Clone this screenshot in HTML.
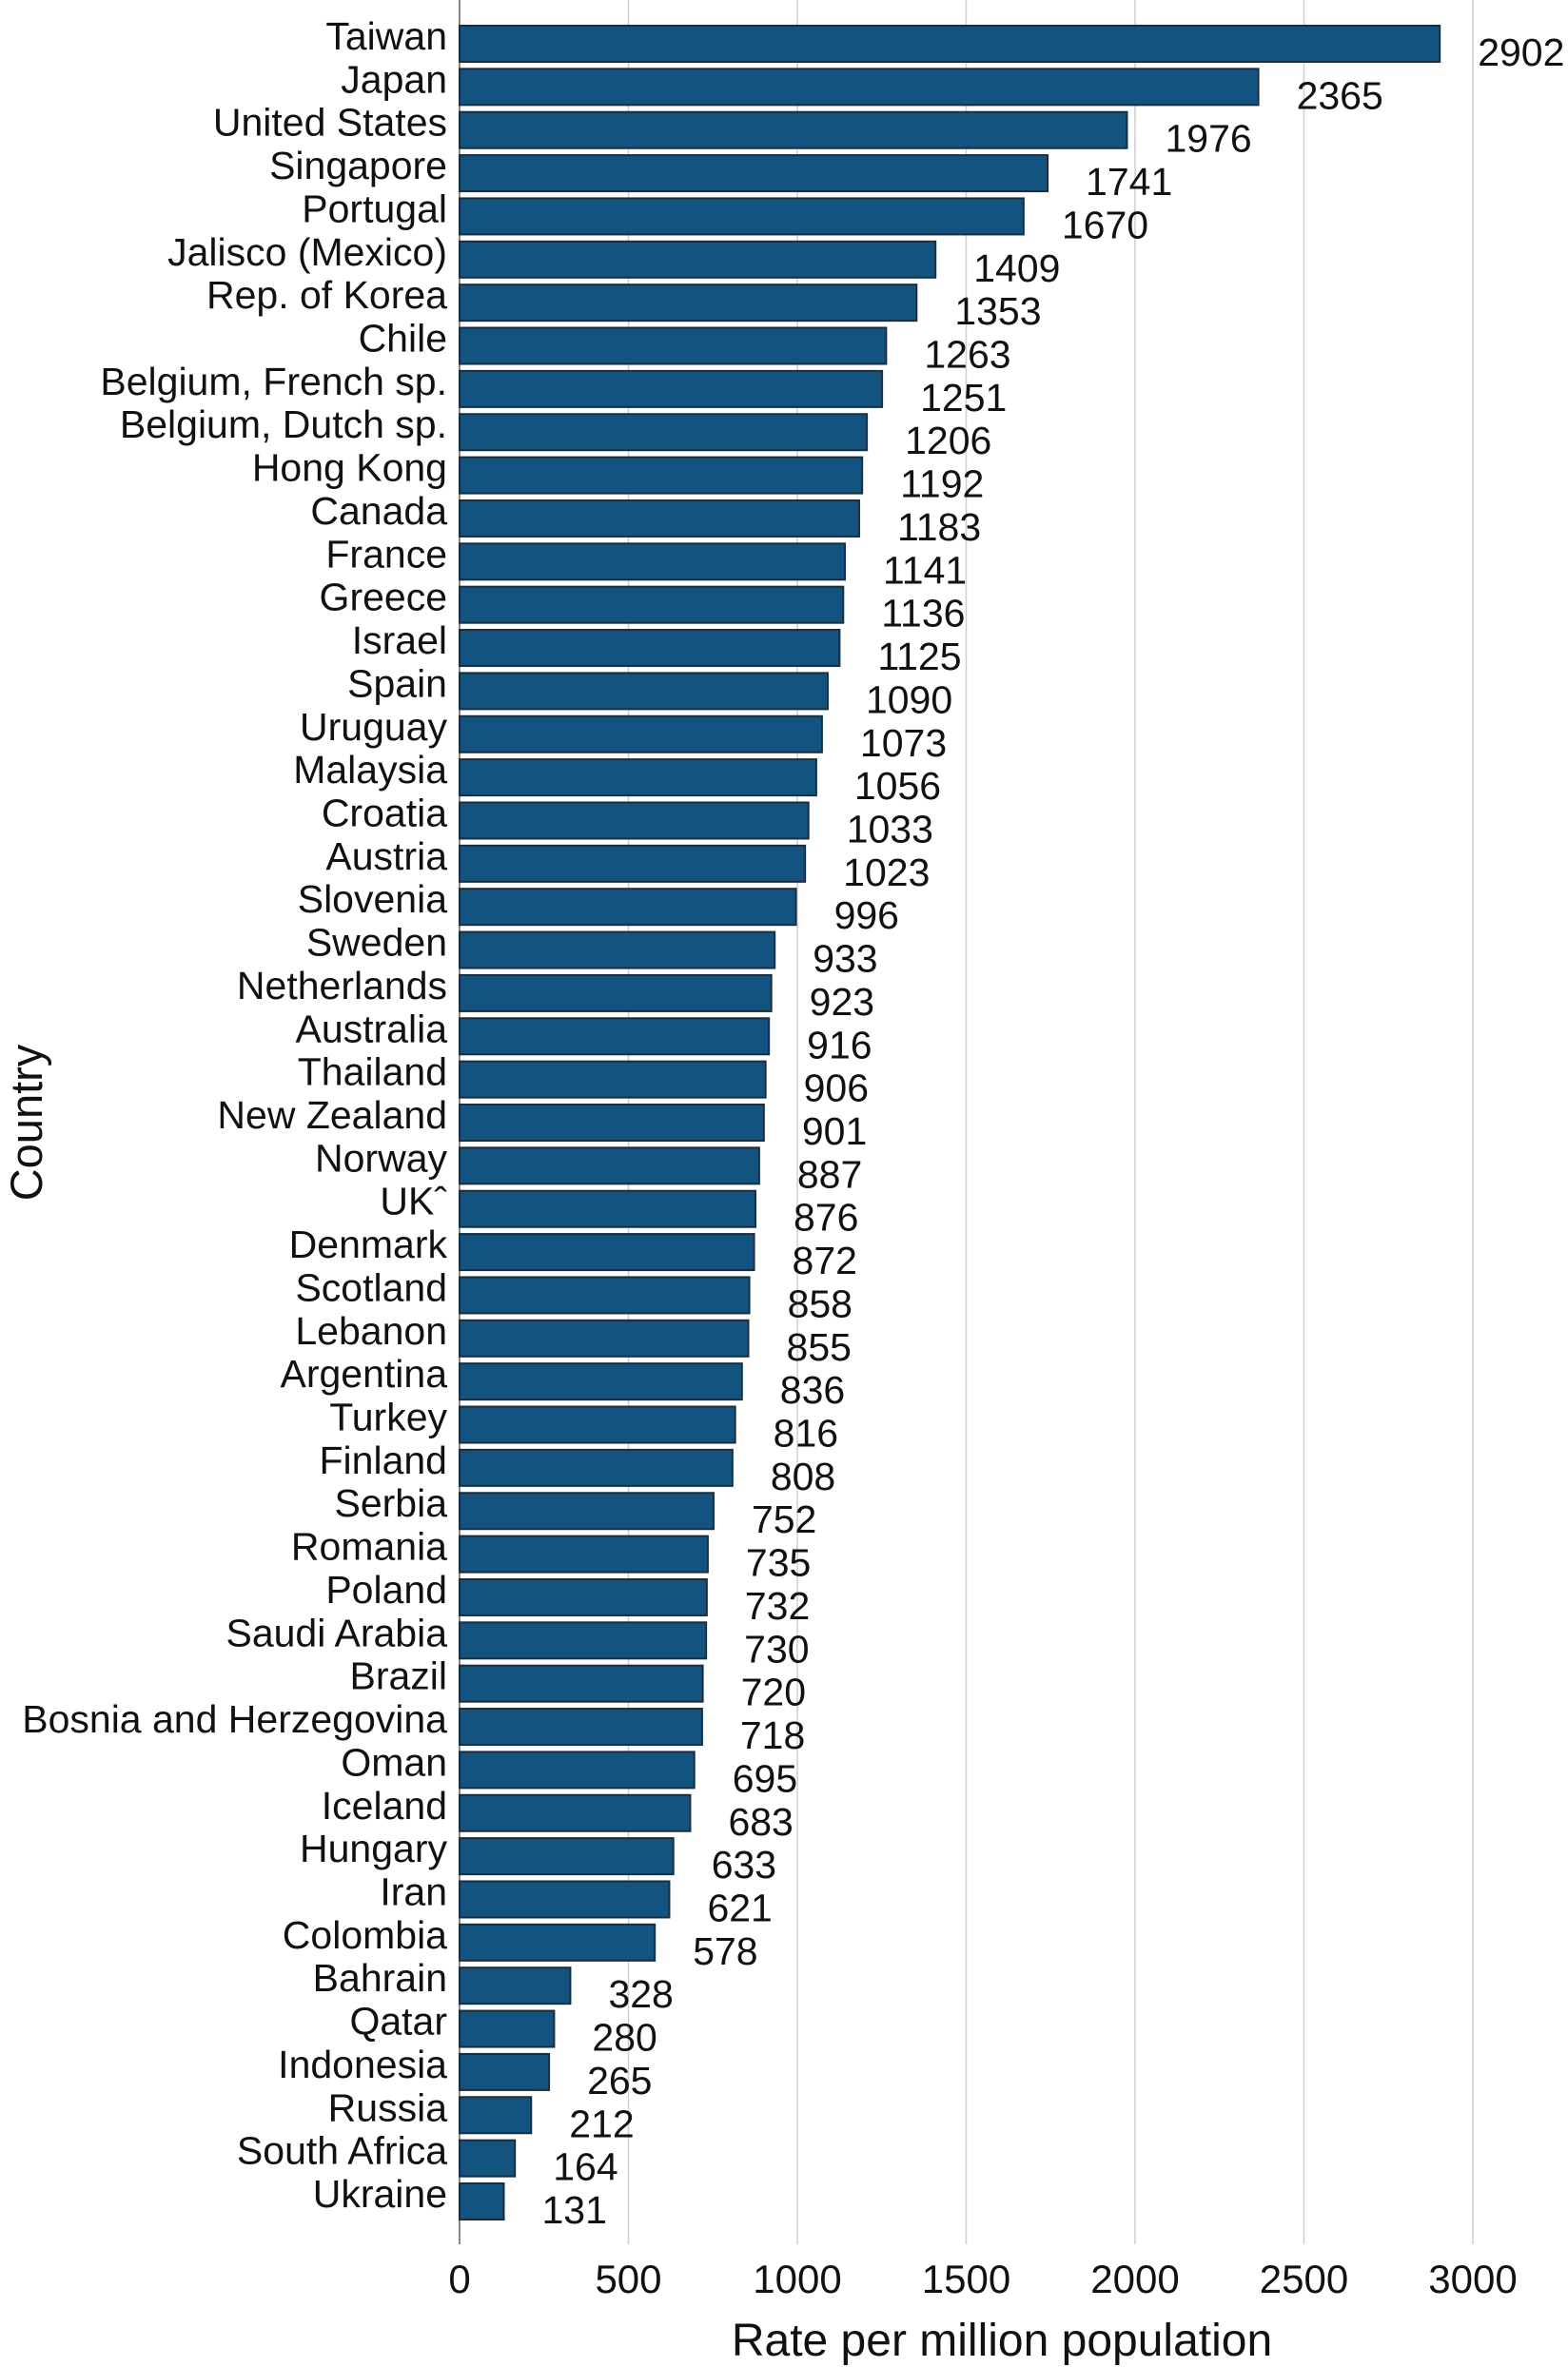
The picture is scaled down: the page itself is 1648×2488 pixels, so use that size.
<!DOCTYPE html>
<html><head><meta charset="utf-8">
<style>
html,body{margin:0;padding:0;background:#fff;}
svg{display:block;font-family:"Liberation Sans",Arial,sans-serif;}
</style></head>
<body>
<svg id="chart" width="1648" height="2488" viewBox="0 0 1648 2488" xmlns="http://www.w3.org/2000/svg">
<text x="0" y="0" transform="translate(44,1180) rotate(-90)" text-anchor="middle" font-size="47" fill="#111">Country</text>
<text x="1053" y="2476" text-anchor="middle" font-size="48" fill="#111">Rate per million population</text>
<g id="grid"></g><g id="bars"></g><g id="labels"></g><g id="ticks"></g>
</svg>
<script>
const countries=["Taiwan","Japan","United States","Singapore","Portugal","Jalisco (Mexico)","Rep. of Korea","Chile","Belgium, French sp.","Belgium, Dutch sp.","Hong Kong","Canada","France","Greece","Israel","Spain","Uruguay","Malaysia","Croatia","Austria","Slovenia","Sweden","Netherlands","Australia","Thailand","New Zealand","Norway","UKˆ","Denmark","Scotland","Lebanon","Argentina","Turkey","Finland","Serbia","Romania","Poland","Saudi Arabia","Brazil","Bosnia and Herzegovina","Oman","Iceland","Hungary","Iran","Colombia","Bahrain","Qatar","Indonesia","Russia","South Africa","Ukraine"];
const values=[2902,2365,1976,1741,1670,1409,1353,1263,1251,1206,1192,1183,1141,1136,1125,1090,1073,1056,1033,1023,996,933,923,916,906,901,887,876,872,858,855,836,816,808,752,735,732,730,720,718,695,683,633,621,578,328,280,265,212,164,131];
const ticks=[0,500,1000,1500,2000,2500,3000];
const NS="http://www.w3.org/2000/svg";
const x0=483,x1=1548,xMax=3000;
function xs(v){return x0+(x1-x0)*v/xMax;}
const top0=27,pitch=(2295-27)/50,bh=38;
function ys(i){return top0+i*pitch;}
function mk(tag,attrs,parent){const e=document.createElementNS(NS,tag);for(const k in attrs)e.setAttribute(k,attrs[k]);parent.appendChild(e);return e;}
const grid=document.getElementById('grid'),bars=document.getElementById('bars'),labels=document.getElementById('labels'),tk=document.getElementById('ticks');
ticks.forEach(t=>{
  const l=mk('line',{x1:xs(t),x2:xs(t),y1:0,y2:2359,stroke:t===0?'#888':'#cfcfcf','stroke-width':t===0?2:1.5},grid);
  
  
  const tx=mk('text',{x:xs(t),y:2410,'text-anchor':'middle','font-size':42,fill:'#111'},tk);
  tx.textContent=t;
  
  
});
countries.forEach((c,i)=>{
  const y=ys(i),v=values[i];
  const slug=c.toLowerCase().replace(/[^a-z0-9]+/g,'-').replace(/-$/,'');
  const r=mk('rect',{x:x0,y:y,width:xs(v)-x0,height:bh,fill:'#12547f',stroke:'#1a2e40','stroke-width':2},bars);
  
  
  const t=mk('text',{x:470,y:y+bh/2+6,'text-anchor':'end','font-size':41,fill:'#111'},labels);
  t.textContent=c;
  
  
  const vl=mk('text',{x:xs(v)+40,y:y+bh+4,'font-size':41,fill:'#111'},labels);
  vl.textContent=v;
  
  
});
</script>
</body></html>
